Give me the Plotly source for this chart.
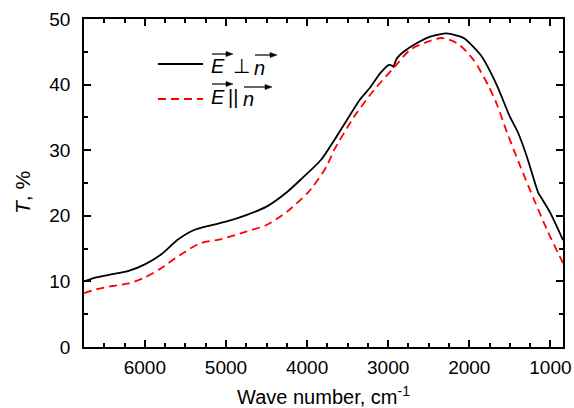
import plotly.graph_objects as go

# Wave number (cm^-1) and transmittance (%)
wn_perp = [6750, 6600, 6400, 6200, 6000, 5800, 5600, 5400, 5200, 5000, 4750, 4500,
           4250, 4080, 3830, 3600, 3350, 3220, 3100, 2990, 2955, 2935, 2915, 2893,
           2810, 2650, 2480, 2280, 2070, 1860, 1660, 1500, 1400, 1290, 1150, 1120,
           1000, 845]
t_perp = [10.0, 10.6, 11.1, 11.6, 12.6, 14.1, 16.3, 17.8, 18.5, 19.1, 20.1, 21.4,
          23.6, 25.5, 28.5, 32.8, 37.7, 39.6, 41.7, 43.0, 42.9, 42.7, 43.4, 44.0,
          45.0, 46.3, 47.3, 47.8, 47.1, 44.5, 39.9, 35.1, 32.7, 29.0, 23.5, 22.9,
          20.4, 16.3]

wn_par = [6750, 6600, 6400, 6200, 6000, 5800, 5570, 5320, 5070, 4750, 4500, 4250,
          4000, 3930, 3760, 3667, 3420, 3173, 2935, 2730, 2520, 2340, 2150, 1950,
          1760, 1660, 1535, 1370, 1200, 1040, 845]
t_par = [8.2, 8.8, 9.3, 9.7, 10.6, 12.0, 14.0, 15.8, 16.4, 17.6, 18.6, 20.6,
         23.4, 24.4, 27.5, 30.0, 35.1, 39.2, 42.5, 45.3, 46.5, 47.1, 46.3, 43.8,
         39.7, 37.0, 32.7, 27.5, 22.4, 17.8, 12.8]

x_ticks = [6000, 5000, 4000, 3000, 2000, 1000]
y_ticks = [0, 10, 20, 30, 40, 50]

FONT = "Liberation Sans, Arial, sans-serif"

fig = go.Figure()
fig.add_trace(go.Scatter(x=wn_perp, y=t_perp, mode="lines", line=dict(color="black", width=1.8),
                         line_shape="spline", line_smoothing=0.6, showlegend=False))
fig.add_trace(go.Scatter(x=wn_par, y=t_par, mode="lines",
                         line=dict(color="#ff0000", width=1.8, dash="8px,5px"),
                         line_shape="spline", line_smoothing=0.8, showlegend=False))

FW, FH = 574, 408
L, R, T, B = 84, 563, 19, 347
W, H = R - L, B - T
def px(x):
    return (x - L) / W
def py(y):
    return (B - y) / H

axis_common = dict(showline=True, linecolor="black", linewidth=1.5, mirror="ticks",
                   ticks="inside", ticklen=7, tickwidth=1.5, tickcolor="black",
                   showgrid=False, zeroline=False, automargin=False,
                   tickfont=dict(family=FONT, size=19, color="black"))

fig.update_layout(
    width=FW, height=FH,
    margin=dict(l=L, r=FW - R, t=T, b=FH - B),
    paper_bgcolor="white", plot_bgcolor="white",
    font=dict(family=FONT, color="black"),
    xaxis=dict(range=[6750, 845], tickvals=x_ticks,
               minor=dict(dtick=250, tick0=0, ticks="inside", ticklen=4, tickwidth=1.5, tickcolor="black"),
               title=dict(text="Wave number, cm<sup>-1</sup>", font=dict(family=FONT, size=20), standoff=16),
               ticklabelstandoff=2,
               **axis_common),
    yaxis=dict(range=[0, 50], tickvals=y_ticks,
               minor=dict(dtick=5, tick0=0, ticks="inside", ticklen=4, tickwidth=1.5, tickcolor="black"),
               ticklabelstandoff=8,
               **axis_common),
)

# y-axis title
fig.add_annotation(xref="paper", yref="paper", x=px(22), y=py(193), text="<i>T</i>, %",
                   showarrow=False, textangle=-90, xanchor="center", yanchor="middle",
                   font=dict(family=FONT, size=21, color="black"))

# Custom legend
ann_font = dict(family=FONT, size=20, color="black")
fig.add_shape(type="line", xref="paper", yref="paper", x0=px(158), x1=px(203), y0=py(64), y1=py(64),
              line=dict(color="black", width=1.8))
fig.add_shape(type="line", xref="paper", yref="paper", x0=px(158), x1=px(203), y0=py(99), y1=py(99),
              line=dict(color="#ff0000", width=1.8, dash="8px,5px"))

def txt(x, y, s):
    fig.add_annotation(xref="paper", yref="paper", x=px(x), y=py(y), text=s, showarrow=False,
                       xanchor="left", yanchor="middle", font=ann_font)

def vec(x0, x1, y):
    fig.add_shape(type="line", xref="paper", yref="paper", x0=px(x0), x1=px(x1 - 3), y0=py(y), y1=py(y),
                  line=dict(color="black", width=1.2))
    path = "M {} {} L {} {} L {} {} Z".format(px(x1), py(y), px(x1 - 7), py(y - 2.6), px(x1 - 7), py(y + 2.6))
    fig.add_shape(type="path", xref="paper", yref="paper", path=path,
                  fillcolor="black", line=dict(color="black", width=0.5))

txt(209, 66, "<i>E</i>")
txt(231, 66, "⊥")
txt(252, 68, "<i>n</i>")
vec(212, 233, 54)
vec(255, 277, 55)

txt(209, 97, "<i>E</i>")
txt(226, 97, "||")
txt(241, 99, "<i>n</i>")
vec(212, 233, 84)
vec(244, 272, 87)

fig.write_html("out.html", config={"displayModeBar": False},
               post_script="document.body.style.margin='0';document.body.style.overflow='hidden';")
